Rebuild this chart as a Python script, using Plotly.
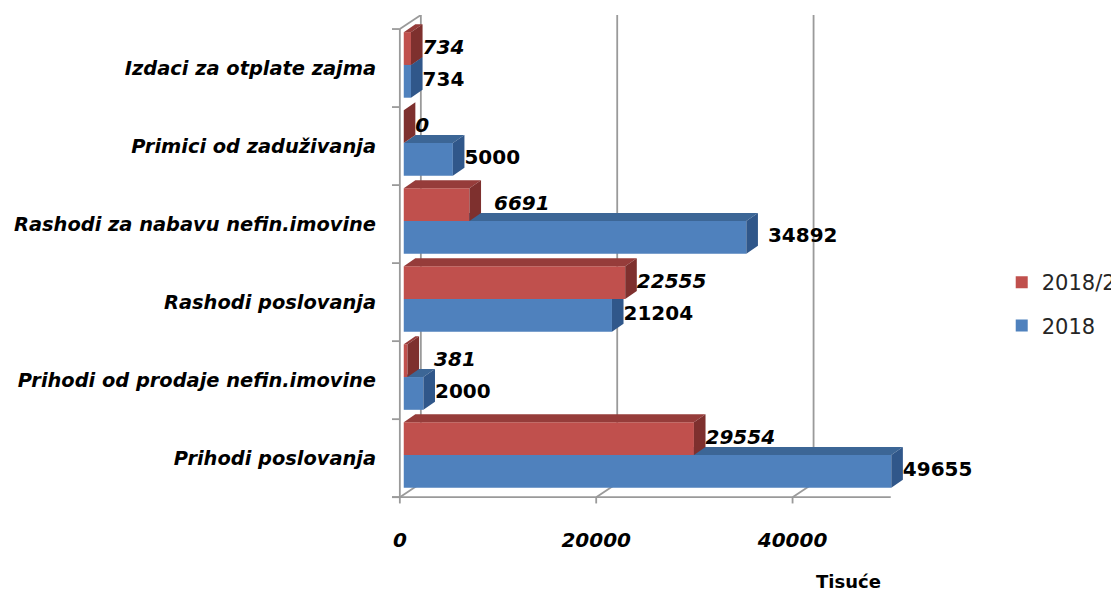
import plotly.graph_objects as go

# ---------------- data ----------------
categories = [
    "Prihodi poslovanja",
    "Prihodi od prodaje nefin.imovine",
    "Rashodi poslovanja",
    "Rashodi za nabavu nefin.imovine",
    "Primici od zaduživanja",
    "Izdaci za otplate zajma",
]
values_2018 = [49655, 2000, 21204, 34892, 5000, 734]
values_2018_2 = [29554, 381, 22555, 6691, 0, 734]
series_names = ["2018", "2018/2"]
x_tick_values = [0, 20000, 40000]
x_tick_labels = ["0", "20000", "40000"]
x_axis_max = 50000
axis_title = "Tisuće"

# ---------------- geometry / style ----------------
PAGE_OFF = 8                   # default body margin of the html page
W, H = 1119 - PAGE_OFF, 592 - PAGE_OFF
PX_PER_UNIT = 0.00982          # px per data unit on x
ROW_PX = 78                    # px per category row
WALL_DX, WALL_DY = 2140, 0.18  # depth of the 3-D walls
BAR_DX, BAR_DY = 1180, 0.103   # depth of the bars
BAR_OFF_X, BAR_OFF_Y = 400, 0.04
BAR_H = 0.42
X_MIN, X_MAX = -900, 59600
Y_MIN = -0.6
Y_MAX = len(categories) - 0.5 + WALL_DY
FRONT_LEFT_PX = 400 - PAGE_OFF
FRONT_BOTTOM_PX = 497 - PAGE_OFF
# manual label nudges (px) as placed in the original chart: (series, category index)
LABEL_NUDGE_PX = {("2018/2", 3): 13, ("2018/2", 1): 15, ("2018", 3): 10}

plot_left = FRONT_LEFT_PX + X_MIN * PX_PER_UNIT
plot_right = plot_left + (X_MAX - X_MIN) * PX_PER_UNIT
plot_bottom = FRONT_BOTTOM_PX + (-0.5 - Y_MIN) * ROW_PX
plot_top = plot_bottom - (Y_MAX - Y_MIN) * ROW_PX
plot_w = plot_right - plot_left
plot_h = plot_bottom - plot_top


def px_to_paper_x(px):
    return (px - PAGE_OFF - plot_left) / plot_w


def px_to_paper_y(py):
    return (plot_bottom - (py - PAGE_OFF)) / plot_h


COL = {
    "2018": {"front": "#4F81BD", "top": "#3C6696", "side": "#30578A"},
    "2018/2": {"front": "#C0504D", "top": "#963C3A", "side": "#7E302E"},
}
GRID = "#9A9A9A"
LABEL_FONT = "DejaVu Sans"

fig = go.Figure()

# ---------------- walls / axes (drawn with data coords) ----------------
n = len(categories)
top_edge = n - 0.5
bot_edge = -0.5


def add_line(xs, ys):
    fig.add_trace(go.Scatter(x=xs, y=ys, mode="lines", line=dict(color=GRID, width=1.8),
                             hoverinfo="skip", showlegend=False, zorder=-5))


gx, gy = [], []
# back-wall gridlines (incl. left back edge)
for t in [0] + x_tick_values[1:]:
    gx += [t + WALL_DX, t + WALL_DX, None]
    gy += [bot_edge + WALL_DY, top_edge + WALL_DY, None]
# top diagonal of left wall
gx += [0, WALL_DX, None]
gy += [top_edge, top_edge + WALL_DY, None]
# floor diagonals at each tick
for t in x_tick_values:
    gx += [t, t + WALL_DX, None]
    gy += [bot_edge, bot_edge + WALL_DY, None]
# front left axis and front bottom axis
gx += [0, 0, None, X_MIN + 100, x_axis_max, None]
gy += [bot_edge, top_edge, None, bot_edge, bot_edge, None]
# category boundary ticks
for k in range(n + 1):
    gx += [X_MIN + 100, 0, None]
    gy += [bot_edge + k, bot_edge + k, None]
# value ticks below the floor
for t in x_tick_values:
    gx += [t, t, None]
    gy += [bot_edge, bot_edge - 0.08, None]
add_line(gx, gy)

# ---------------- bars ----------------
series = [("2018", values_2018, -1), ("2018/2", values_2018_2, +1)]
for z, (name, vals, sgn) in enumerate(series):
    c = COL[name]
    centers = [i + BAR_OFF_Y + sgn * BAR_H / 2 for i in range(n)]
    # front faces
    fig.add_trace(go.Bar(
        y=centers, x=vals, base=BAR_OFF_X, orientation="h", width=BAR_H,
        marker=dict(color=c["front"], line=dict(width=0)), name=name,
        legendgroup=name, legendrank=2 - z, zorder=z, hoverinfo="skip",
    ))
    tx, ty, sx, sy = [], [], [], []
    for v, yc in zip(vals, centers):
        x0, x1 = BAR_OFF_X, BAR_OFF_X + v
        yt, yb = yc + BAR_H / 2, yc - BAR_H / 2
        tx += [x0, x1, x1 + BAR_DX, x0 + BAR_DX, x0, None]
        ty += [yt, yt, yt + BAR_DY, yt + BAR_DY, yt, None]
        sx += [x1, x1, x1 + BAR_DX, x1 + BAR_DX, x1, None]
        sy += [yb, yt, yt + BAR_DY, yb + BAR_DY, yb, None]
    fig.add_trace(go.Scatter(x=tx, y=ty, mode="lines", fill="toself", fillcolor=c["top"],
                             line=dict(width=0, color=c["top"]), hoverinfo="skip",
                             showlegend=False, zorder=z))
    fig.add_trace(go.Scatter(x=sx, y=sy, mode="lines", fill="toself", fillcolor=c["side"],
                             line=dict(width=0, color=c["side"]), hoverinfo="skip",
                             showlegend=False, zorder=z))
    # data labels
    lx = [BAR_OFF_X + v + BAR_DX + LABEL_NUDGE_PX.get((name, i), 0) / PX_PER_UNIT
          for i, v in enumerate(vals)]
    fig.add_trace(go.Scatter(
        x=lx, y=centers,
        mode="text", text=[str(v) for v in vals], textposition="middle right",
        textfont=dict(family=LABEL_FONT, size=20, color="#000000", weight="bold",
                      style="italic" if name == "2018/2" else "normal"),
        cliponaxis=False, hoverinfo="skip", showlegend=False, zorder=5,
    ))

fig.update_layout(
    width=W, height=H,
    barmode="overlay",
    paper_bgcolor="white", plot_bgcolor="white",
    margin=dict(l=plot_left, r=W - plot_right, t=plot_top, b=H - plot_bottom, autoexpand=False),
    xaxis=dict(range=[X_MIN, X_MAX], showgrid=False, zeroline=False, showline=False,
               tickmode="array", tickvals=x_tick_values, ticktext=x_tick_labels,
               ticks="", ticklabelstandoff=21,
               tickfont=dict(family=LABEL_FONT, size=20, color="#000000", weight="bold", style="italic")),
    yaxis=dict(range=[Y_MIN, Y_MAX], showgrid=False, zeroline=False, showline=False,
               tickmode="array", tickvals=list(range(n)), ticktext=categories,
               ticks="", ticklabelstandoff=14,
               tickfont=dict(family=LABEL_FONT, size=19.4, color="#000000", weight="bold", style="italic")),
    legend=dict(x=px_to_paper_x(1002), y=px_to_paper_y(262),
                xanchor="left", yanchor="top", traceorder="grouped", tracegroupgap=13,
                font=dict(family=LABEL_FONT, size=21, color="#262626"),
                bgcolor="rgba(0,0,0,0)"),
    showlegend=True,
    annotations=[dict(text=axis_title, xref="paper", yref="paper",
                      x=px_to_paper_x(849), y=px_to_paper_y(581),
                      xanchor="center", yanchor="middle", showarrow=False,
                      font=dict(family=LABEL_FONT, size=18, color="#000000", weight="bold"))],
)

fig.write_html("out.html")
